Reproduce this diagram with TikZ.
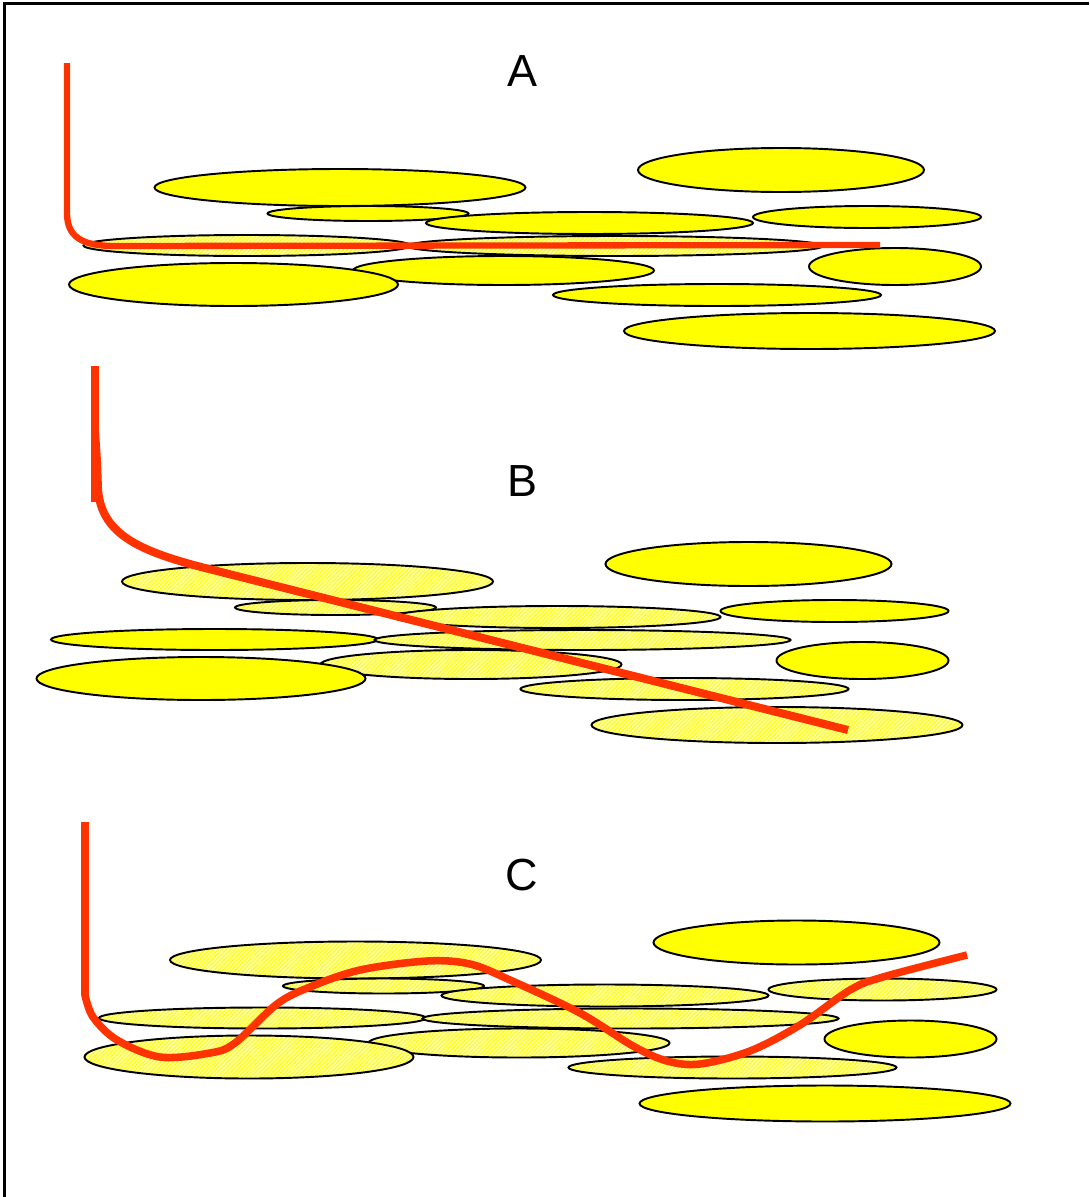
\documentclass[tikz,border=0pt]{standalone}
\usepackage{fontspec}
\setmainfont{Liberation Sans}
\usetikzlibrary{patterns.meta}
\definecolor{redline}{RGB}{255,51,0}
\definecolor{yel}{RGB}{255,255,0}
\tikzset{
  solidbl/.style={draw=black, line width=1.1pt, fill=yel},
  hatchbl/.style={draw=black, line width=1.1pt, preaction={fill=yel!32},
     pattern={Lines[angle=45,distance=1.7pt,line width=0.6pt]}, pattern color=yel},
  redpath/.style={draw=redline, line width=#1},
  lbl/.style={font=\fontsize{25.6}{30}\selectfont, inner sep=0pt},
  frame/.style={draw=black, line width=1.5pt}
}
\newcommand\myell[5]{\path[#5] (#1,#2) ellipse [x radius={#3*0.02cm}, y radius={#4*0.02cm}];}
\begin{document}
\begin{tikzpicture}[x=0.02cm,y=-0.02cm]
\useasboundingbox (0,0) rectangle (1089,1197);
\fill[white] (0,0) rectangle (1089,1197);
% frame
\draw[frame] (4.5,1197) -- (4.5,3.5) -- (1089,3.5);

% ---------------- Panel A ----------------
\begin{scope}
\myell{340}{187.5}{185.5}{18.5}{solidbl}
\myell{368}{213.5}{100.5}{7.5}{solidbl}
\myell{589.5}{223}{163.5}{11}{solidbl}
\myell{247}{245.5}{163.5}{10.5}{hatchbl}
\myell{615}{246}{208}{10}{hatchbl}
\myell{503.5}{270.5}{150.5}{14.5}{solidbl}
\myell{233.5}{284.5}{164.5}{21.5}{solidbl}
\myell{717}{295}{164}{11}{solidbl}
\myell{895}{266.5}{86}{18.5}{solidbl}
\myell{867}{217}{114}{11}{solidbl}
\myell{781}{170}{143}{22}{solidbl}
\myell{809.5}{331}{185.5}{18}{solidbl}
\end{scope}
\node[lbl] (labA) at (522,71) {A};
\draw[redpath=3.6pt] (67,63) -- (67,213) .. controls (67,237) and (82,246) .. (115,246) -- (880,245);

% ---------------- Panel B ----------------
\begin{scope}[shift={(-32.5,394)}]
\myell{340}{187.5}{185.5}{18.5}{hatchbl}
\myell{368}{213.5}{100.5}{7.5}{hatchbl}
\myell{589.5}{223}{163.5}{11}{hatchbl}
\myell{247}{245.5}{163.5}{10.5}{solidbl}
\myell{615}{246}{208}{10}{hatchbl}
\myell{503.5}{270.5}{150.5}{14.5}{hatchbl}
\myell{233.5}{284.5}{164.5}{21.5}{solidbl}
\myell{717}{295}{164}{11}{hatchbl}
\myell{895}{266.5}{86}{18.5}{solidbl}
\myell{867}{217}{114}{11}{solidbl}
\myell{781}{170}{143}{22}{solidbl}
\myell{809.5}{331}{185.5}{18}{hatchbl}
\end{scope}
\node[lbl] (labB) at (522,481) {B};
\draw[redpath=4.6pt] (95,366) -- (95,502);
\draw[redpath=4.6pt] (95,432) .. controls (97,460) .. (98,490) .. controls (102,535) and (140,552) .. (213,570) -- (848,730);

% ---------------- Panel C ----------------
\begin{scope}[shift={(15.5,772.5)}]
\myell{340}{187.5}{185.5}{18.5}{hatchbl}
\myell{368}{213.5}{100.5}{7.5}{hatchbl}
\myell{589.5}{223}{163.5}{11}{hatchbl}
\myell{247}{245.5}{163.5}{10.5}{hatchbl}
\myell{615}{246}{208}{10}{hatchbl}
\myell{503.5}{270.5}{150.5}{14.5}{hatchbl}
\myell{233.5}{284.5}{164.5}{21.5}{hatchbl}
\myell{717}{295}{164}{11}{hatchbl}
\myell{895}{266.5}{86}{18.5}{solidbl}
\myell{867}{217}{114}{11}{hatchbl}
\myell{781}{170}{143}{22}{solidbl}
\myell{809.5}{331}{185.5}{18}{solidbl}
\end{scope}
\node[lbl] (labC) at (522,875) {C};
\draw[redpath=4.3pt] (85,822) -- plot[smooth, tension=0.55] coordinates {(85,995) (93,1017) (117,1040) (160,1057) (210,1053) (235,1043) (277,1004) (310,987) (360,970) (427,961) (470,964) (510,980) (580,1013) (633,1046) (667,1061) (700,1064) (750,1051) (800,1025) (850,990) (883,977) (967,955)};
\end{tikzpicture}
\end{document}
